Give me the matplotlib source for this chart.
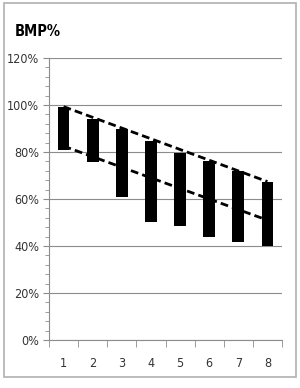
import matplotlib
matplotlib.use("Agg")
import matplotlib.pyplot as plt
from matplotlib.ticker import MultipleLocator, FixedLocator
from matplotlib.patches import Rectangle

plt.rcParams['font.family'] = ['DejaVu Sans']
plt.rcParams['font.stretch'] = 'condensed'

categories = [1, 2, 3, 4, 5, 6, 7, 8]
bar_top = [99.1, 94.2, 89.6, 84.8, 79.7, 76.2, 71.8, 67.4]
bar_bottom = [81.0, 75.6, 60.7, 50.3, 48.5, 43.7, 41.8, 40.0]
upper_line = [(1, 99.3), (8, 67.4)]
lower_line = [(1, 82.5), (8, 51.0)]
yticks = [0, 20, 40, 60, 80, 100, 120]
ytick_labels = ['0%', '20%', '40%', '60%', '80%', '100%', '120%']

fig = plt.figure(figsize=(3.0, 3.88), dpi=100)
fig.patches.append(Rectangle((4/300, 1-377/388), 292/300, 374/388, transform=fig.transFigure,
                             fill=False, edgecolor='#b0b0b0', linewidth=1.2))
ax = fig.add_axes([49/300, 1-340/388, 233/300, 282/388])

heights = [t - b for t, b in zip(bar_top, bar_bottom)]
ax.bar(categories, heights, bottom=bar_bottom, width=0.4, color='black', zorder=3)

ax.plot([p[0] for p in upper_line], [p[1] for p in upper_line], color='black',
        linestyle=(0, (2.8, 1.5)), linewidth=2.0, zorder=4)
ax.plot([p[0] for p in lower_line], [p[1] for p in lower_line], color='black',
        linestyle=(0, (2.8, 1.5)), linewidth=2.0, zorder=4)

ax.set_xlim(0.5, 8.5)
ax.set_ylim(0, 120)
ax.set_yticks(yticks)
ax.set_yticklabels(ytick_labels)
ax.yaxis.set_minor_locator(MultipleLocator(4))
ax.set_xticks(categories)
ax.set_xticklabels([str(c) for c in categories])
ax.xaxis.set_minor_locator(FixedLocator([0.5 + i for i in range(9)]))

ax.grid(axis='y', which='major', color='#8c8c8c', linewidth=0.8, zorder=0)
for s in ['top', 'right']:
    ax.spines[s].set_visible(False)
for s in ['left', 'bottom']:
    ax.spines[s].set_color('#8c8c8c')
    ax.spines[s].set_linewidth(0.8)

ax.tick_params(axis='x', which='major', length=0, pad=12, labelsize=9, labelcolor='#333333')
ax.tick_params(axis='x', which='minor', length=5, color='#8c8c8c', direction='out')
ax.tick_params(axis='y', which='major', length=4, color='#8c8c8c', pad=3, labelsize=9, labelcolor='#333333')
ax.tick_params(axis='y', which='minor', length=3, color='#8c8c8c')

fig.text(15/300, 1-32/388, 'BMP%', fontsize=10.5, fontweight='bold', va='center', ha='left', color='black')

fig.savefig('out.png', dpi=100)
